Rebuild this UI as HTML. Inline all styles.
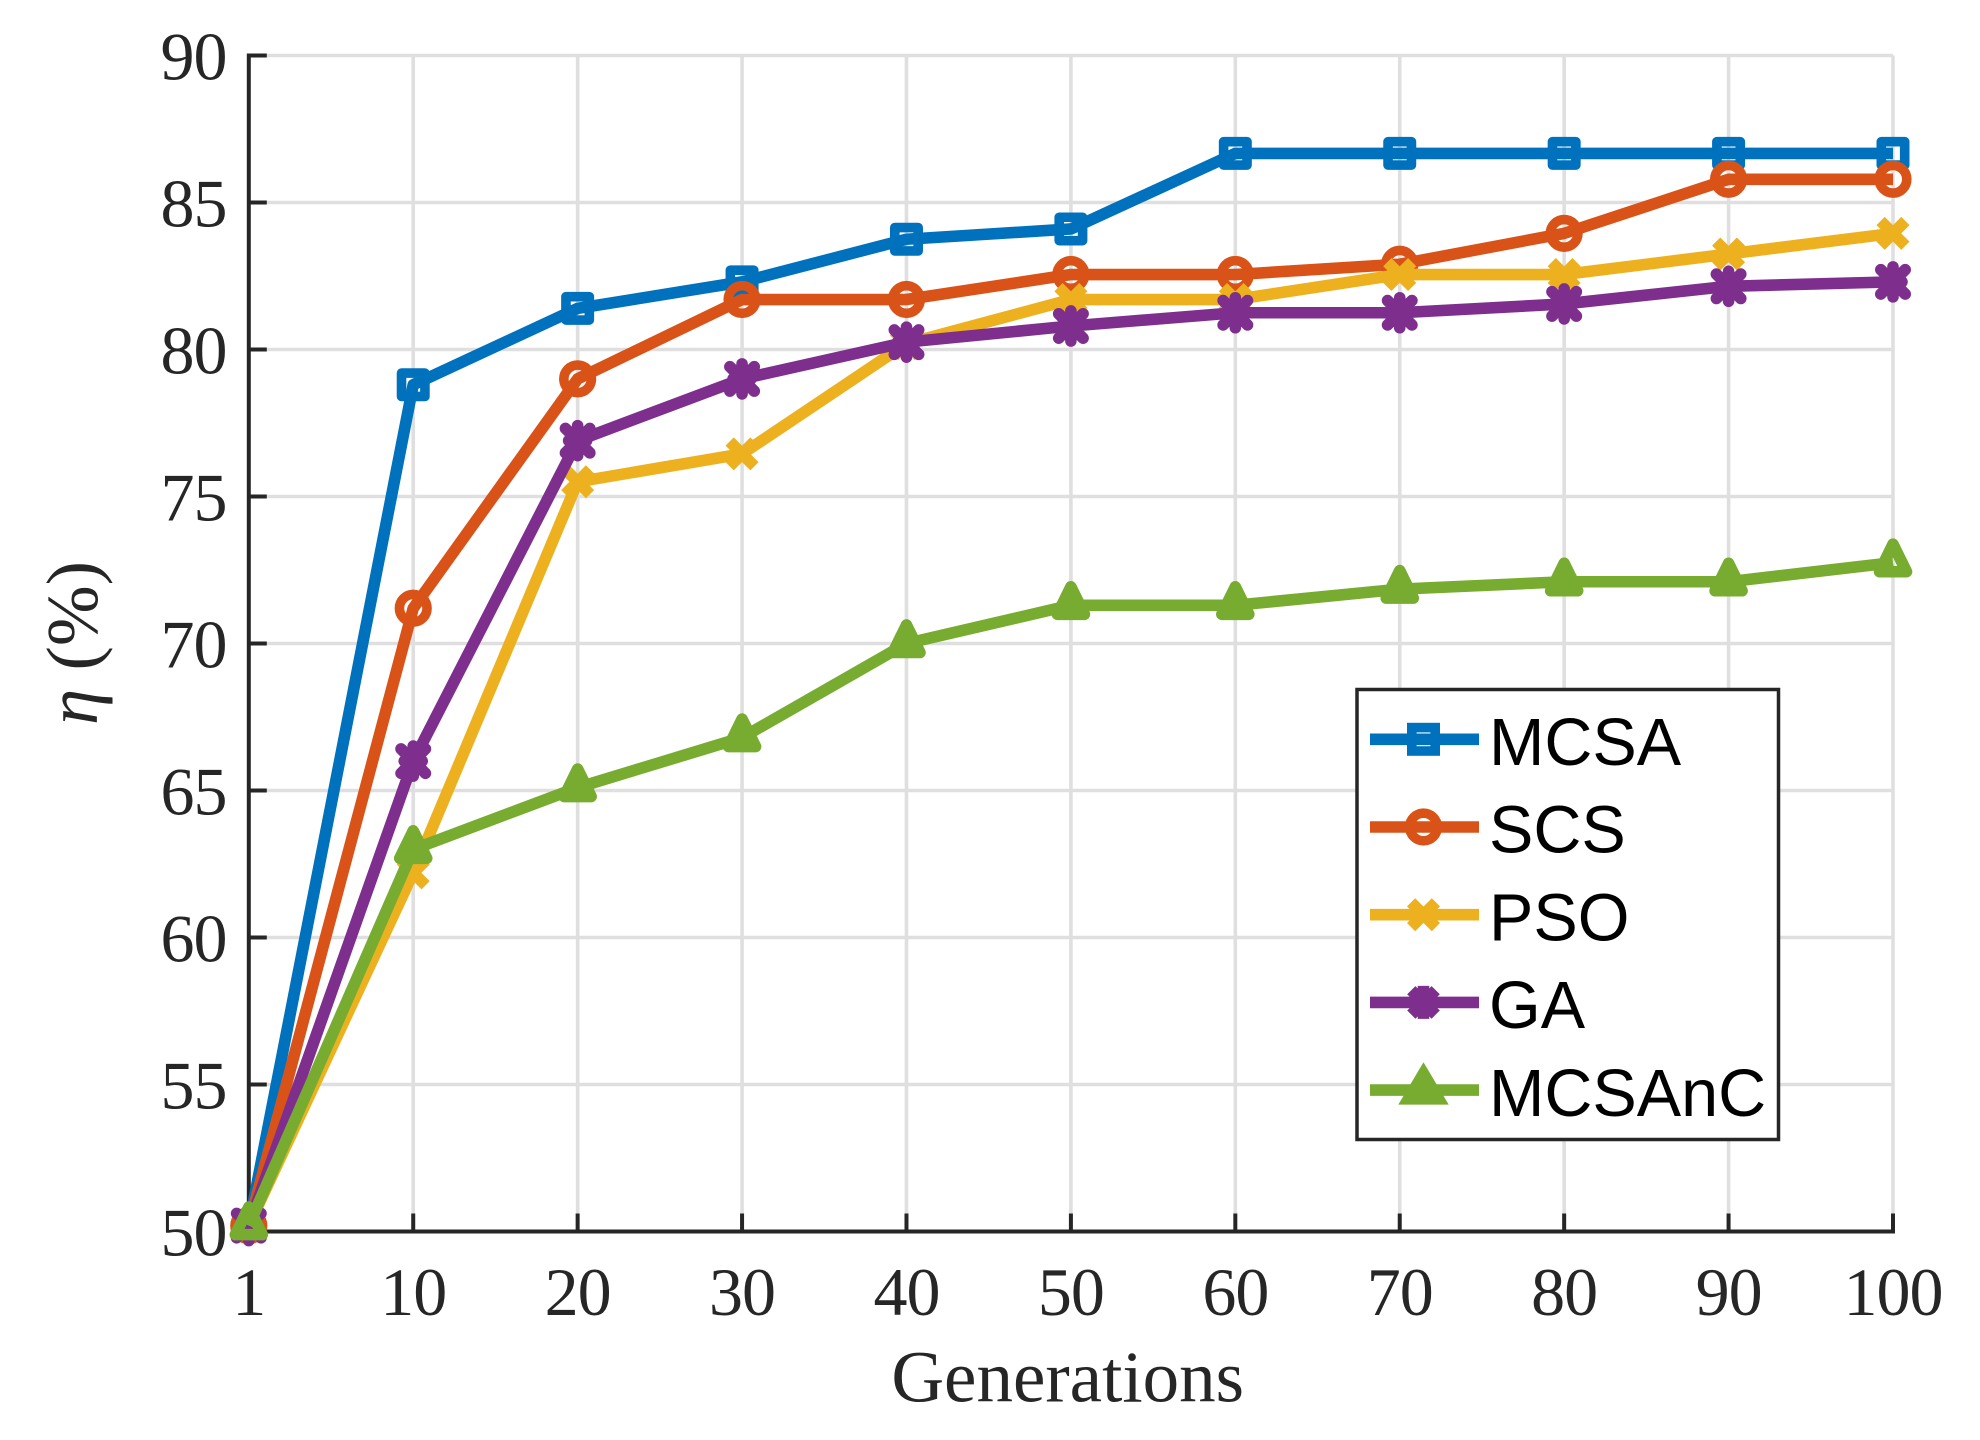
<!DOCTYPE html>
<html lang="en">
<head>
<meta charset="utf-8">
<title>Efficiency vs generations</title>
<style>
html,body{margin:0;padding:0;background:#fff;}
#chart{display:block;width:1980px;height:1440px;}
.serif{font-family:"Liberation Serif",serif;fill:#262626;}
.sans{font-family:"Liberation Sans",sans-serif;fill:#000;}
</style>
</head>
<body>
<svg id="chart" xmlns="http://www.w3.org/2000/svg" width="1980" height="1440" viewBox="0 0 1980 1440"></svg>
<script>
const categories = ["1","10","20","30","40","50","60","70","80","90","100"];
const yTicks = [50,55,60,65,70,75,80,85,90];
const seriesNames = ["MCSA","SCS","PSO","GA","MCSAnC"];
const mcsaValues = [50.2,78.8,81.4,82.3,83.75,84.1,86.67,86.67,86.67,86.67,86.67];
const scsValues = [50.2,71.2,79.0,81.7,81.7,82.55,82.55,82.9,83.95,85.79,85.79];
const psoValues = [50.2,62.2,75.5,76.45,80.2,81.7,81.7,82.55,82.55,83.25,83.95];
const gaValues = [50.2,66.0,76.9,79.0,80.25,80.8,81.25,81.25,81.55,82.15,82.3];
const mcsancValues = [50.2,63.0,65.1,66.8,70.0,71.3,71.3,71.85,72.1,72.1,72.75];
const yMin = 50;
const yMax = 90;

const NS = "http://www.w3.org/2000/svg";
const svg = document.getElementById("chart");
const LEFT = 248.8, RIGHT = 1893, TOP = 55.5, BOTTOM = 1231.5;
const COLORS = ["#0072BD","#D95319","#EDB120","#7E2F8E","#77AC30"];
const MARKERS = ["square","circle","x","asterisk","triangle"];
const INK = "#262626", GRID = "#dfdfdf";
const LINE_W = 11.6;
const OPEN_W = 9.6;

function xScale(i){ return LEFT + (RIGHT - LEFT) * i / (categories.length - 1); }
function yScale(v){ return BOTTOM - (BOTTOM - TOP) * (v - yMin) / (yMax - yMin); }
function mk(tag, attrs, parent){
  const e = document.createElementNS(NS, tag);
  for (const k in attrs) e.setAttribute(k, attrs[k]);
  (parent || svg).appendChild(e);
  return e;
}
function drawMarker(kind, cx, cy, color, legend, parent){
  const st = {fill:"none", stroke:color, "stroke-width":LINE_W, "stroke-linejoin":legend?"miter":"round"};
  const open = Object.assign({}, st, {"stroke-width":OPEN_W});
  const t = "translate(" + cx + " " + cy + ")";
  let m;
  if (kind === "square") m = mk("rect", Object.assign({x:cx-11.7,y:cy-11.7,width:23.4,height:23.4}, open), parent);
  else if (kind === "circle") m = mk("circle", Object.assign({cx:cx,cy:cy,r:13.8}, open), parent);
  else if (kind === "x") m = mk("path", Object.assign({d:"M-12.4 -12.4L12.4 12.4M-12.4 12.4L12.4 -12.4",transform:t}, st), parent);
  else if (kind === "asterisk") {
    const v = legend ? 16.5 : 15;
    m = mk("path", Object.assign({d:"M-12.2 -12.2L12.2 12.2M-12.2 12.2L12.2 -12.2M0 -"+v+"L0 "+v+"M-9 0L9 0",transform:t,"stroke-linecap":legend?"butt":"round"}, st), parent);
  } else {
    m = legend
      ? mk("path", Object.assign({d:"M0 -16.5L15 8.7L-15 8.7Z",transform:t}, st), parent)
      : mk("path", Object.assign({d:"M0 -18.5L13.5 9L-13.5 9Z",transform:t}, st), parent);
  }
  return m;
}

/* background */
const bg = mk("rect", {x:0,y:0,width:1980,height:1440,fill:"#fff"});



/* grid */
const gridGroup = mk("g", {stroke:GRID,"stroke-width":3.6});


categories.forEach(function(c, i){
  if (i === 0) return;
  const gl = mk("line", {x1:xScale(i),x2:xScale(i),y1:TOP,y2:BOTTOM}, gridGroup);
  
  
});
yTicks.forEach(function(v, i){
  if (i === 0) return;
  const gl = mk("line", {x1:LEFT,x2:RIGHT,y1:yScale(v),y2:yScale(v)}, gridGroup);
  
  
});

/* axes */
const axisGroup = mk("g", {stroke:INK,"stroke-width":4,fill:"none"});


const xAxisLine = mk("line", {x1:LEFT-2,x2:RIGHT+2,y1:BOTTOM,y2:BOTTOM}, axisGroup);


const yAxisLine = mk("line", {x1:LEFT,x2:LEFT,y1:TOP-2,y2:BOTTOM+2}, axisGroup);



categories.forEach(function(c, i){
  const tk = mk("line", {x1:xScale(i),x2:xScale(i),y1:BOTTOM,y2:BOTTOM-18}, axisGroup);
  
  
  const lb = mk("text", {x:xScale(i),y:1315,"text-anchor":"middle","font-size":68,"letter-spacing":"-1",class:"serif"});
  
  
  lb.textContent = c;
});
yTicks.forEach(function(v){
  const tk = mk("line", {x1:LEFT,x2:LEFT+18,y1:yScale(v),y2:yScale(v)}, axisGroup);
  
  
  const lb = mk("text", {x:226.5,y:yScale(v)+24,"text-anchor":"end","font-size":68,"letter-spacing":"-1",class:"serif"});
  
  
  lb.textContent = String(v);
});

/* titles */
const xTitle = mk("text", {x:1067.7,y:1401.7,"text-anchor":"middle","font-size":73,class:"serif"});


xTitle.textContent = "Generations";
const yTitle = mk("text", {transform:"translate(97 643) rotate(-90)","text-anchor":"middle","font-size":73,class:"serif"});


const eta = mk("tspan", {"font-style":"italic"}, yTitle);
eta.textContent = "η";
const pct = mk("tspan", {}, yTitle);
pct.textContent = " (%)";

/* series */
const allSeries = [mcsaValues, scsValues, psoValues, gaValues, mcsancValues];
allSeries.forEach(function(vals, s){
  const g = mk("g", {});
  
  
  const pts = vals.map(function(v, i){ return xScale(i) + "," + yScale(v); }).join(" ");
  const line = mk("polyline", {points:pts,fill:"none",stroke:COLORS[s],"stroke-width":LINE_W,"stroke-linejoin":"round"}, g);
  
  
  vals.forEach(function(v, i){
    const m = drawMarker(MARKERS[s], xScale(i), yScale(v), COLORS[s], false, g);
    
    
  });
});

/* legend */
const legend = mk("g", {});


const legendBox = mk("rect", {x:1357,y:689.5,width:421.5,height:450,fill:"#fff",stroke:INK,"stroke-width":3.5}, legend);


const legendStep = 87.7;
seriesNames.forEach(function(name, s){
  const rowY = 739.3 + legendStep * s;
  const entry = mk("g", {}, legend);
  
  
  const ln = mk("line", {x1:1370,x2:1479,y1:rowY,y2:rowY,stroke:COLORS[s],"stroke-width":LINE_W}, entry);
  
  
  const mm = drawMarker(MARKERS[s], 1423.5, rowY, COLORS[s], true, entry);
  
  
  const tx = mk("text", {x:1489,y:rowY+25.7,"font-size":66.5,class:"sans"}, entry);
  
  
  tx.textContent = name;
});
</script>
</body>
</html>
